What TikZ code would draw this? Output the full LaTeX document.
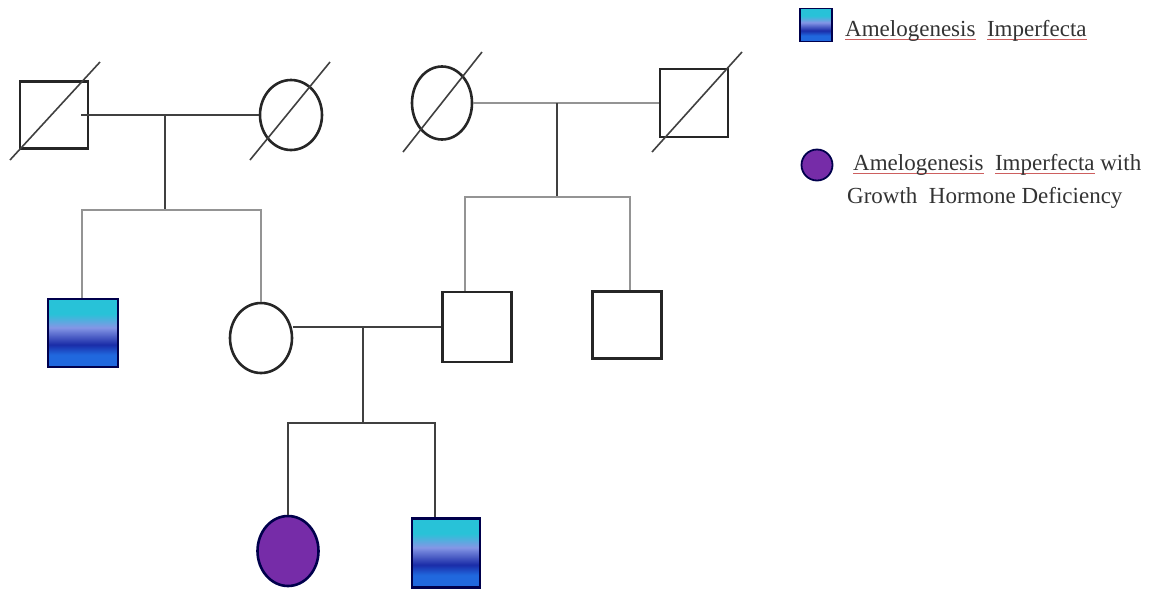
\documentclass[tikz,border=0pt]{standalone}
\usepackage{fontspec}
\setmainfont{Liberation Serif}
\usepackage{tikz}
\usetikzlibrary{shapes.geometric,positioning}
\definecolor{aicyan}{RGB}{40,194,216}
\definecolor{ailav}{RGB}{132,150,230}
\definecolor{aidark}{RGB}{26,44,168}
\definecolor{aiblue}{RGB}{32,104,222}
\definecolor{aipurple}{RGB}{118,44,168}
\definecolor{spellred}{RGB}{205,95,95}
\pgfdeclareverticalshading{aishade}{100bp}{color(0bp)=(aiblue); color(25bp)=(aiblue);
  color(34bp)=(aiblue); color(41.5bp)=(aidark); color(54bp)=(ailav);
  color(64bp)=(aicyan); color(100bp)=(aicyan)}
% word with the spell check line below it
\newcommand{\misspelt}[1]{\setbox0\hbox{#1}\rlap{\color{spellred}\rule[-4pt]{\wd0}{0.8pt}}\box0\relax}
\tikzset{
  male/.style = {rectangle, draw=black!85, line width=2.6pt, inner sep=0pt,
    minimum width=68pt, minimum height=67pt},
  female/.style = {ellipse, draw=black!85, line width=2.6pt, inner sep=0pt,
    minimum width=62pt, minimum height=70pt},
  affected/.style = {shading=aishade, draw=black!70!blue},
  aigh/.style = {fill=aipurple, draw=black!70!blue},
  dline/.style = {line width=2pt, draw=black!75},
  gline/.style = {line width=2.2pt, draw=black!42},
  deceased/.style = {line width=1.6pt, draw=black!75},
  legtext/.style = {inner sep=0pt, anchor=base west, text=black!80,
    font=\fontsize{23}{27}\selectfont},
}
\begin{document}
\begin{tikzpicture}[x=1pt,y=-1pt]
  \useasboundingbox (0,0) rectangle (1157,590);

  % first generation
  \node[male] (gfa) at (54,115) {};
  \node[female] (gma) at (291,115) {};
  \node[female, minimum width=60pt, minimum height=73pt] (gmb) at (442,103) {};
  \node[male, minimum height=68pt] (gfb) at (694,103) {};

  \draw[deceased] ([shift={(-44,45)}]gfa.center) -- ([shift={(46,-53)}]gfa.center);
  \draw[deceased] ([shift={(-41,45)}]gma.center) -- ([shift={(39,-53)}]gma.center);
  \draw[deceased] ([shift={(-39,49)}]gmb.center) -- ([shift={(40,-51)}]gmb.center);
  \draw[deceased] ([shift={(-42,49)}]gfb.center) -- ([shift={(48,-51)}]gfb.center);

  % second generation
  \node[male, affected, minimum width=70pt, minimum height=68pt] (sona) at (83,333) {};
  \node[female] (dau) at (261,338) {};
  \node[male, minimum width=69pt, minimum height=70pt] (sonb) at (477,327) {};
  \node[male, minimum width=69pt] (sonc) at (627,325) {};

  % third generation
  \node[female, aigh, minimum width=61pt] (girl) at (288,551) {};
  \node[male, affected, minimum height=69pt] (boy) at (446,553) {};

  \coordinate (ma) at (165,115);
  \coordinate (sa) at (165,210);
  \coordinate (mb) at (557,103);
  \coordinate (sb) at (557,197);
  \coordinate (mc) at (363,327);
  \coordinate (sc) at (363,423);

  % left family
  \draw[dline] ([xshift=-8pt]gfa.east) -- (gma.west);
  \draw[dline] (ma) -- (sa);
  \draw[gline] (sona.north -| 82,0) |- (sa) -| (dau.north);

  % right family
  \draw[gline] (gmb.east) -- (gfb.west);
  \draw[dline] (mb) -- (sb);
  \draw[gline] ([xshift=24pt]sonb.north west) |- (sb) -| ([xshift=3pt]sonc.north);

  % couple and children
  \draw[dline] (sonb.west) -- (sonb.west -| dau.east);
  \draw[dline] (mc) -- (sc);
  \draw[dline] (girl.north) |- (sc) -| ([xshift=24pt]boy.north west);

  % legend
  \node[rectangle, affected, line width=1.8pt, inner sep=0pt,
    minimum width=32pt, minimum height=33pt] (lgsq) at (816,25) {};
  \node[legtext] (lgone) at (845,36) {\misspelt{Amelogenesis}\ \ \misspelt{Imperfecta}};
  \node[circle, aigh, line width=1.8pt, inner sep=0pt, minimum size=31pt] (lgci) at (817,165) {};
  \node[legtext] (lgtwoa) at (853,170) {\misspelt{Amelogenesis}\ \ \misspelt{Imperfecta} with};
  \node[legtext] (lgtwob) at ([xshift=-6pt,yshift=-33pt]lgtwoa.base west) {Growth\ \ Hormone Deficiency};
\end{tikzpicture}
\end{document}
